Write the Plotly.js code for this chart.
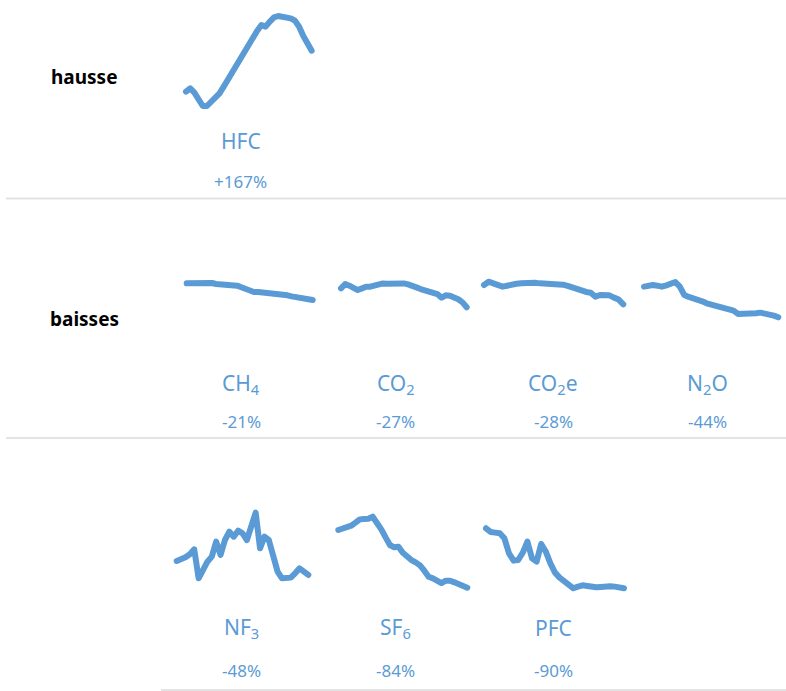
<!DOCTYPE html>
<html>
<head>
<meta charset="utf-8">
<script src="https://cdn.plot.ly/plotly-3.0.1.min.js"></script>
<style>
html,body{margin:0;padding:0;background:#fff;}
#chart{width:786px;height:691px;}
.js-line{stroke-linejoin:round !important;stroke-linecap:round !important;}
</style>
</head>
<body>
<div id="chart"></div>
<script>
// ---- DATA (index, first year = 100) ----
var years = [1990,1991,1992,1993,1994,1995,1996,1997,1998,1999,2000,2001,2002,2003,2004,2005,2006,2007,2008,2009,2010,2011,2012,2013,2014,2015,2016,2017,2018,2019,2020];
var hfc  = [100,113.6,95.9,68.8,41.6,41.6,59.3,79.6,93.2,120.4,150.2,181.5,208.6,239.9,267,296.9,324.1,348.5,371.6,364.8,385.2,402.8,408.3,405.6,402.8,398.8,389.3,364.8,326.8,296.9,267];
var ch4  = [100,100,100,100,100.8,101.7,100.4,99.2,98.7,98.7,98.7,98.3,97.1,95,92.4,90.3,89.1,89.1,88.7,87.8,87,86.1,85.7,85.7,84.9,83.6,82.8,81.9,81.1,80.3,79];
var co2  = [100,106.2,103.8,100.5,97.6,100,102.4,102.4,104.7,106.2,107.1,106.6,106.6,107.6,108.1,107.1,105.7,104.3,101.4,99.1,97.2,94.3,94.3,91.9,86.7,90.1,89.6,87.7,84.4,80.1,73];
var co2e = [100,104.8,102.4,99.5,97.6,99,101,101.9,102.4,103.4,102.4,103.4,102.4,102.4,102.4,102.4,101.4,100.5,98.6,96.1,93.7,91.3,89.9,88.9,83.1,85.5,85.5,85,81.7,78.8,72];
var n2o  = [100,101.9,102.4,101.4,100,101.9,105.3,106.7,100,88,85.2,83.7,82.3,79,76.1,74.2,72.7,72.3,70.3,68.4,65.6,60.8,60.8,60.3,61.3,61.7,62.7,61.7,60.3,58.4,56];
var nf3  = [100,105.7,112.6,122.9,140,40.6,69.1,97.7,114.9,166.3,120.6,172,200.6,183.4,204,194.9,172,223.4,265.7,143.4,183.4,172,109.1,63.4,40.6,40.6,42.9,57.7,74.9,63.4,52];
var sf6  = [100,101.9,103.9,106.3,110.7,115.5,116,116.5,119.4,111.7,101,89.3,78.2,74.8,75.7,67,60.7,56.3,52.9,48.5,40.8,32,29.6,25.7,22.8,26.2,26.2,23.8,21.4,18.9,16];
var pfc  = [100,94.5,93.5,92.5,85,62.5,51.5,52.5,63.5,80,55,50,76.5,65,47.5,33.5,26,20.5,14,10,12.5,14.5,13.5,12,11.5,12,13,13,12.5,11,10];

var names    = ['HFC','CH<sub>4</sub>','CO<sub>2</sub>','CO<sub>2</sub>e','N<sub>2</sub>O','NF<sub>3</sub>','SF<sub>6</sub>','PFC'];
var changes  = ['+167%','-21%','-27%','-28%','-44%','-48%','-84%','-90%'];
var series   = [hfc, ch4, co2, co2e, n2o, nf3, sf6, pfc];
var groups   = ['hausse','baisses'];

// ---- LAYOUT (pixel boxes) ----
var W = 786, H = 691;
var boxes = [
  {x0:186,   x1:311.7, yTop:16,    yBot:106,   lx:240.5, ly:140.5, py:181},
  {x0:186.7, x1:312.7, yTop:282,   yBot:300,   lx:241,   ly:384,   py:421},
  {x0:341,   x1:466.7, yTop:282.7, yBot:307.3, lx:396,   ly:384,   py:421},
  {x0:484,   x1:623.3, yTop:281.7, yBot:304.3, lx:553,   ly:384,   py:421},
  {x0:644,   x1:778.3, yTop:282,   yBot:317.3, lx:707,   ly:384,   py:421},
  {x0:176.7, x1:308.3, yTop:512.7, yBot:578.3, lx:241.5, ly:628,   py:670},
  {x0:338.3, x1:467.3, yTop:516.7, yBot:587.7, lx:395.5, ly:628,   py:670},
  {x0:486,   x1:624,   yTop:528.3, yBot:588.3, lx:553,   ly:628,   py:670}
];
var groupPos = [{x:84, y:77}, {x:84, y:319}];
var seps = [{x0:6, y:198.5}, {x0:6, y:438}, {x0:161, y:690}];

var blue = '#5B9BD5';
var font = 'Noto Sans, DejaVu Sans, sans-serif';
var pad = 5;

var traces = [], annotations = [], shapes = [];
var layout = {
  width: W, height: H,
  margin: {l:0, r:0, t:0, b:0},
  paper_bgcolor: '#fff', plot_bgcolor: 'rgba(0,0,0,0)',
  showlegend: false
};

series.forEach(function(vals, i){
  var b = boxes[i];
  var n = vals.length;
  var xmin = years[0], xmax = years[n-1];
  var xppu = (b.x1 - b.x0) / (xmax - xmin);
  var ymin = Math.min.apply(null, vals), ymax = Math.max.apply(null, vals);
  var yppu = (b.yBot - b.yTop) / (ymax - ymin);
  var k = i + 1;
  var xa = 'xaxis' + (k === 1 ? '' : k), ya = 'yaxis' + (k === 1 ? '' : k);
  layout[xa] = {
    domain: [(b.x0 - pad) / W, (b.x1 + pad) / W],
    range: [xmin - pad / xppu, xmax + pad / xppu],
    visible: false, fixedrange: true
  };
  layout[ya] = {
    domain: [(H - (b.yBot + pad)) / H, (H - (b.yTop - pad)) / H],
    range: [ymin - pad / yppu, ymax + pad / yppu],
    visible: false, fixedrange: true
  };
  traces.push({
    type: 'scatter', mode: 'lines',
    x: years.slice(0, n), y: vals,
    xaxis: 'x' + (k === 1 ? '' : k), yaxis: 'y' + (k === 1 ? '' : k),
    line: {color: blue, width: 6},
    hoverinfo: 'skip'
  });
  annotations.push({
    xref: 'paper', yref: 'paper', x: b.lx / W, y: (H - b.ly) / H,
    xanchor: 'center', yanchor: 'middle', showarrow: false,
    text: names[i], font: {family: font, size: 21, color: blue}
  });
  annotations.push({
    xref: 'paper', yref: 'paper', x: b.lx / W, y: (H - b.py) / H,
    xanchor: 'center', yanchor: 'middle', showarrow: false,
    text: changes[i], font: {family: font, size: 17, color: blue}
  });
});

groups.forEach(function(g, i){
  annotations.push({
    xref: 'paper', yref: 'paper', x: groupPos[i].x / W, y: (H - groupPos[i].y) / H,
    xanchor: 'center', yanchor: 'middle', showarrow: false,
    text: '<b>' + g + '</b>', font: {family: font, size: 19, color: '#000'}
  });
});

seps.forEach(function(s){
  shapes.push({
    type: 'line', xref: 'paper', yref: 'paper',
    x0: s.x0 / W, x1: 1, y0: (H - s.y) / H, y1: (H - s.y) / H,
    line: {color: '#E3E3E3', width: 2}
  });
});

layout.annotations = annotations;
layout.shapes = shapes;

Plotly.newPlot('chart', traces, layout, {staticPlot: true, displayModeBar: false});
</script>
</body>
</html>
